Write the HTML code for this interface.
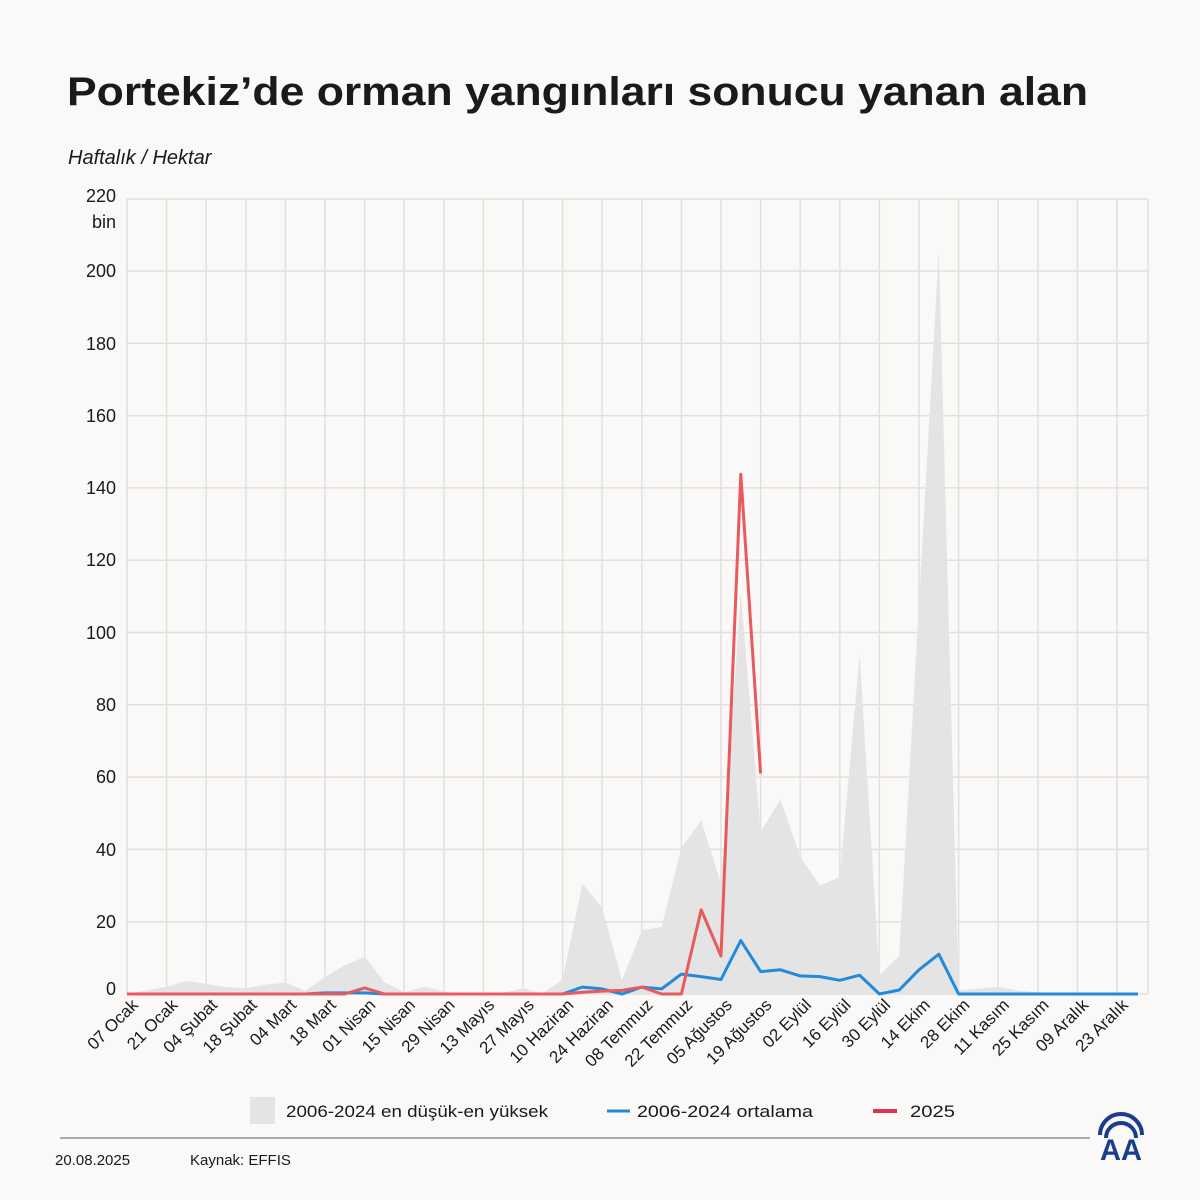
<!DOCTYPE html>
<html><head><meta charset="utf-8"><style>
html,body{margin:0;padding:0;background:#fbf9f7;}
svg{display:block;font-family:"Liberation Sans",sans-serif;}
</style></head><body>
<svg width="1200" height="1200" viewBox="0 0 1200 1200" xmlns="http://www.w3.org/2000/svg">
<rect width="1200" height="1200" fill="#fbf9f7"/>
<text x="67" y="105" font-size="40" font-weight="bold" fill="#1a1a1a" textLength="1021" lengthAdjust="spacingAndGlyphs">Portekiz’de orman yangınları sonucu yanan alan</text>
<text x="68" y="164" font-size="20" font-style="italic" fill="#1a1a1a">Haftalık / Hektar</text>
<g stroke="#e2e0de" stroke-width="1.5">
<line x1="127" y1="199" x2="1148" y2="199"/><line x1="127" y1="271" x2="1148" y2="271"/><line x1="127" y1="343.3" x2="1148" y2="343.3"/><line x1="127" y1="415.6" x2="1148" y2="415.6"/><line x1="127" y1="487.9" x2="1148" y2="487.9"/><line x1="127" y1="560.2" x2="1148" y2="560.2"/><line x1="127" y1="632.5" x2="1148" y2="632.5"/><line x1="127" y1="704.8" x2="1148" y2="704.8"/><line x1="127" y1="777.1" x2="1148" y2="777.1"/><line x1="127" y1="849.4" x2="1148" y2="849.4"/><line x1="127" y1="921.7" x2="1148" y2="921.7"/>
<line x1="127" y1="199" x2="127" y2="994"/><line x1="166.6" y1="199" x2="166.6" y2="994"/><line x1="206.2" y1="199" x2="206.2" y2="994"/><line x1="245.8" y1="199" x2="245.8" y2="994"/><line x1="285.4" y1="199" x2="285.4" y2="994"/><line x1="325" y1="199" x2="325" y2="994"/><line x1="364.6" y1="199" x2="364.6" y2="994"/><line x1="404.2" y1="199" x2="404.2" y2="994"/><line x1="443.8" y1="199" x2="443.8" y2="994"/><line x1="483.4" y1="199" x2="483.4" y2="994"/><line x1="523" y1="199" x2="523" y2="994"/><line x1="562.6" y1="199" x2="562.6" y2="994"/><line x1="602.2" y1="199" x2="602.2" y2="994"/><line x1="641.8" y1="199" x2="641.8" y2="994"/><line x1="681.4" y1="199" x2="681.4" y2="994"/><line x1="721" y1="199" x2="721" y2="994"/><line x1="760.6" y1="199" x2="760.6" y2="994"/><line x1="800.2" y1="199" x2="800.2" y2="994"/><line x1="839.8" y1="199" x2="839.8" y2="994"/><line x1="879.4" y1="199" x2="879.4" y2="994"/><line x1="919" y1="199" x2="919" y2="994"/><line x1="958.6" y1="199" x2="958.6" y2="994"/><line x1="998.2" y1="199" x2="998.2" y2="994"/><line x1="1037.8" y1="199" x2="1037.8" y2="994"/><line x1="1077.4" y1="199" x2="1077.4" y2="994"/><line x1="1117" y1="199" x2="1117" y2="994"/><line x1="1148" y1="199" x2="1148" y2="994"/>
</g>
<polygon fill="#e4e4e4" points="127,994 146.8,990.4 166.6,986.8 186.4,981 206.2,983.9 226,987.1 245.8,988.2 265.6,984.6 285.4,982.8 305.2,990.7 325,977 344.8,965.1 364.6,956.8 384.4,982.1 404.2,992.2 424,986.8 443.8,991.5 463.6,994 483.4,994 503.2,992.9 523,988.2 542.8,993.3 562.6,979.5 582.4,883.7 602.2,908 622,980.3 641.8,930.4 661.6,926.8 681.4,847.6 701.2,820.5 721,883.7 740.8,592.7 760.6,832 780.4,799.5 800.2,856.6 820,885.6 839.8,876.9 859.6,654.9 879.4,975.2 899.2,956 919,603.6 938.8,249.3 958.6,990.4 978.4,988.6 998.2,986.8 1018,990.4 1037.8,992.2 1057.6,993 1077.4,993 1097.2,994 1117,994 1136.8,994"/>
<line x1="127" y1="994" x2="1148" y2="994" stroke="#e2e0de" stroke-width="1.5"/>
<polyline fill="none" stroke="#2389db" stroke-width="3" stroke-linejoin="round" points="127,994 305.2,994 325,992.9 344.8,992.9 364.6,992.9 384.4,994 562.6,994 582.4,987.1 602.2,988.9 622,994 641.8,987.1 661.6,988.9 681.4,974.1 701.2,976.6 721,979.5 740.8,940.5 760.6,971.6 780.4,969.8 800.2,975.9 820,976.6 839.8,980.3 859.6,975.2 879.4,994 899.2,990 919,969.8 938.8,954.2 958.6,994 1138,994"/>
<polyline fill="none" stroke="#e85a5c" stroke-width="3" stroke-linejoin="round" points="127,994 344.8,994 364.6,987.9 384.4,994 562.6,994 582.4,992.2 602.2,991.1 622,990.4 641.8,987.1 661.6,994 681.4,994 701.2,909.8 721,956 740.8,474.2 760.6,773.5"/>
<g font-size="18" fill="#1a1a1a" text-anchor="end">
<text x="116" y="202">220</text><text x="116" y="228">bin</text>
<text x="116" y="277">200</text><text x="116" y="350">180</text><text x="116" y="422">160</text><text x="116" y="494">140</text><text x="116" y="566">120</text><text x="116" y="639">100</text><text x="116" y="711">80</text><text x="116" y="783">60</text><text x="116" y="856">40</text><text x="116" y="928">20</text><text x="116" y="995">0</text>
</g>
<g font-size="17" fill="#1a1a1a" text-anchor="end">
<text transform="translate(139,1006) rotate(-45)">07 Ocak</text>
<text transform="translate(178.6,1006) rotate(-45)">21 Ocak</text>
<text transform="translate(218.2,1006) rotate(-45)">04 Şubat</text>
<text transform="translate(257.8,1006) rotate(-45)">18 Şubat</text>
<text transform="translate(297.4,1006) rotate(-45)">04 Mart</text>
<text transform="translate(337,1006) rotate(-45)">18 Mart</text>
<text transform="translate(376.6,1006) rotate(-45)">01 Nisan</text>
<text transform="translate(416.2,1006) rotate(-45)">15 Nisan</text>
<text transform="translate(455.8,1006) rotate(-45)">29 Nisan</text>
<text transform="translate(495.4,1006) rotate(-45)">13 Mayıs</text>
<text transform="translate(535,1006) rotate(-45)">27 Mayıs</text>
<text transform="translate(574.6,1006) rotate(-45)">10 Haziran</text>
<text transform="translate(614.2,1006) rotate(-45)">24 Haziran</text>
<text transform="translate(653.8,1006) rotate(-45)">08 Temmuz</text>
<text transform="translate(693.4,1006) rotate(-45)">22 Temmuz</text>
<text transform="translate(733,1006) rotate(-45)">05 Ağustos</text>
<text transform="translate(772.6,1006) rotate(-45)">19 Ağustos</text>
<text transform="translate(812.2,1006) rotate(-45)">02 Eylül</text>
<text transform="translate(851.8,1006) rotate(-45)">16 Eylül</text>
<text transform="translate(891.4,1006) rotate(-45)">30 Eylül</text>
<text transform="translate(931,1006) rotate(-45)">14 Ekim</text>
<text transform="translate(970.6,1006) rotate(-45)">28 Ekim</text>
<text transform="translate(1010.2,1006) rotate(-45)">11 Kasım</text>
<text transform="translate(1049.8,1006) rotate(-45)">25 Kasım</text>
<text transform="translate(1089.4,1006) rotate(-45)">09 Aralık</text>
<text transform="translate(1129,1006) rotate(-45)">23 Aralık</text>
</g>
<rect x="250" y="1097" width="25" height="27" fill="#e4e4e4"/>
<text x="286" y="1117" font-size="17" fill="#1a1a1a" textLength="262" lengthAdjust="spacingAndGlyphs">2006-2024 en düşük-en yüksek</text>
<line x1="607" y1="1111" x2="630" y2="1111" stroke="#2389db" stroke-width="3"/>
<text x="637" y="1117" font-size="17" fill="#1a1a1a" textLength="176" lengthAdjust="spacingAndGlyphs">2006-2024 ortalama</text>
<line x1="873" y1="1111" x2="897" y2="1111" stroke="#e0324f" stroke-width="4"/>
<text x="910" y="1117" font-size="17" fill="#1a1a1a" textLength="45" lengthAdjust="spacingAndGlyphs">2025</text>
<line x1="60" y1="1138" x2="1090" y2="1138" stroke="#aaaaaa" stroke-width="2"/>
<text x="55" y="1165" font-size="15" fill="#1a1a1a">20.08.2025</text>
<text x="190" y="1165" font-size="15" fill="#1a1a1a">Kaynak: EFFIS</text>
<g fill="none" stroke="#1a3d8f" stroke-width="4">
<path d="M1100,1135 A21,21 0 0 1 1142,1135"/>
<path d="M1106,1138 A15,15 0 0 1 1136,1138"/>
</g>
<text x="1121" y="1160" font-size="30" font-weight="bold" fill="#1a3d8f" text-anchor="middle" textLength="42" lengthAdjust="spacingAndGlyphs">AA</text>
</svg>
</body></html>
